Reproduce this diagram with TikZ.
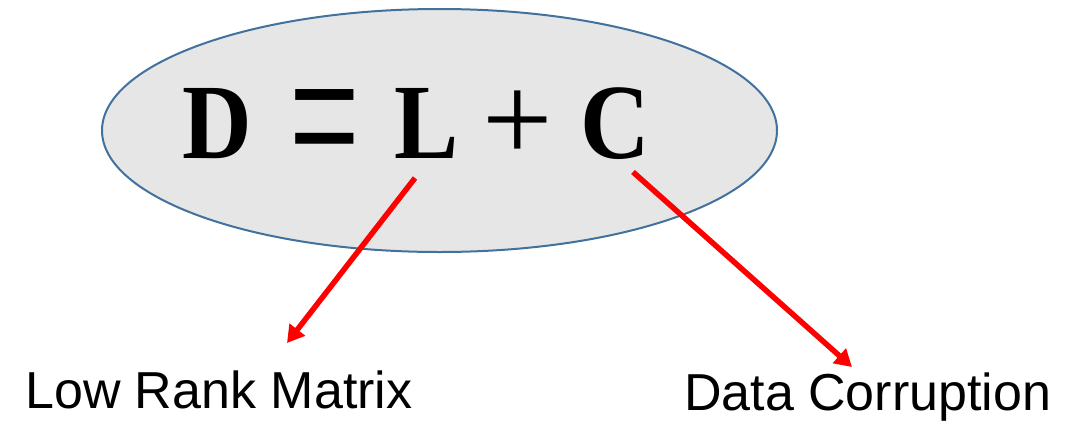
\documentclass[tikz,border=0pt]{standalone}
\usepackage{fontspec}
\usepackage{graphicx}
\setmainfont{Liberation Serif}
\newfontfamily\labelfont{Liberation Sans}
\usetikzlibrary{shapes.geometric,arrows.meta}
\definecolor{ellfill}{HTML}{E6E6E6}
\definecolor{ellline}{HTML}{41719C}
\definecolor{arrred}{HTML}{FF0000}
\tikzset{
  eqglyph/.style={inner sep=0pt, anchor=base, font=\fontsize{107}{110}\selectfont\bfseries},
  eqop/.style={inner sep=0pt, anchor=center, font=\fontsize{125}{130}\selectfont},
  lbl/.style={inner sep=0pt, anchor=base west, font=\labelfont\fontsize{52}{60}\selectfont},
  redarrow/.style={draw=arrred, line width=5.5pt, -{Triangle[length=17pt,width=19pt]}},
}
\begin{document}
\begin{tikzpicture}[x=1pt,y=-1pt]
\useasboundingbox (0,0) rectangle (1066,421);
\node[ellipse, draw=ellline, fill=ellfill, line width=2pt, minimum width=675pt, minimum height=243pt, inner sep=0pt] (ell) at (439.5,130.5) {};
\node[eqglyph, xscale=0.9] (D) at (217.5,158) {D};
\node[eqop] (eq) at (325,140) {\scalebox{1}[1.75]{=}};
\node[eqglyph, xscale=0.9] (L) at (427,158) {L};
\node[eqop] (plus) at (518,126.5) {+};
\node[eqglyph, xscale=0.9] (C) at (615.5,158) {C};
\node[lbl] (low) at (25,408) {Low Rank Matrix};
\node[lbl] (data) at (684,410) {Data Corruption};
\coordinate (s1) at (415,178);
\coordinate (t1) at (287,343);
\coordinate (s2) at (633,172);
\coordinate (t2) at (852,367);
\draw[redarrow] (s1) -- (t1);
\draw[redarrow] (s2) -- (t2);
\end{tikzpicture}
\end{document}
